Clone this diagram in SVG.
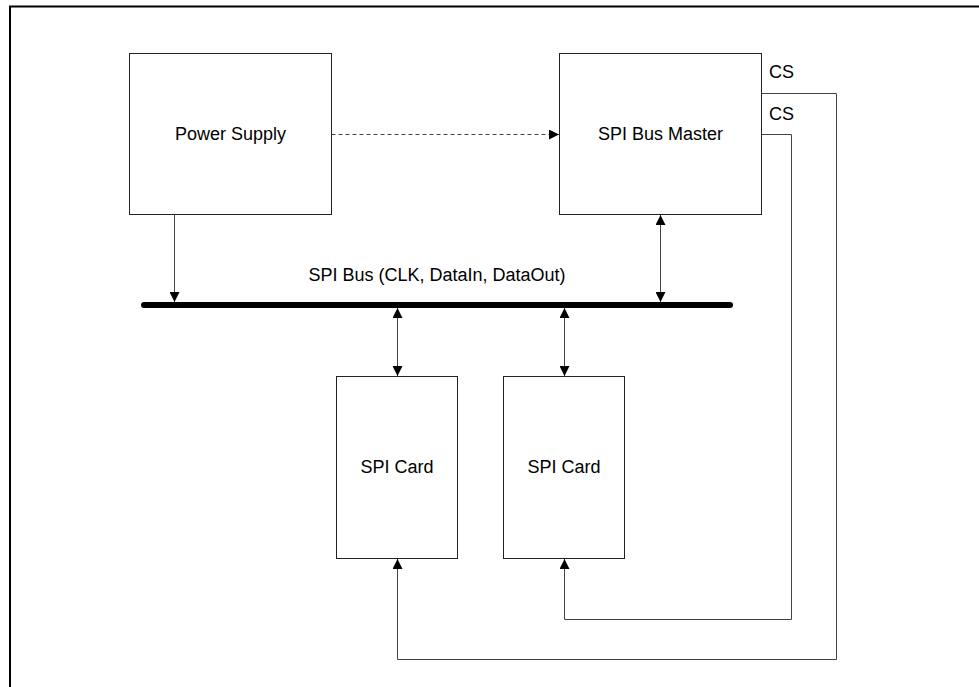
<svg xmlns="http://www.w3.org/2000/svg" width="979" height="687" viewBox="0 0 979 687">
  <defs>
    <marker id="arrow" viewBox="0 0 10 10" refX="10" refY="5" markerWidth="10" markerHeight="10" markerUnits="userSpaceOnUse" orient="auto-start-reverse">
      <path d="M0,0 L10,5 L0,10 z" fill="#000"/>
    </marker>
  </defs>
  <style>
    .box { fill: #fff; stroke: #222; stroke-width: 1; }
    .lbl { font-family: "Liberation Sans", Arial, sans-serif; font-size: 18px; fill: #000; }
    .conn { fill: none; stroke: #444; stroke-width: 1; }
  </style>
  <rect x="0" y="0" width="979" height="687" fill="#fff"/>
  <rect id="frame" x="10" y="6.5" width="1000" height="700" fill="none" stroke="#000" stroke-width="2"/>

  <g id="power-supply">
    <rect class="box" x="129.5" y="53.5" width="202" height="161"/>
    <text class="lbl" x="230.5" y="139.5" text-anchor="middle">Power Supply</text>
  </g>
  <g id="spi-bus-master">
    <rect class="box" x="559.5" y="53.5" width="202" height="161"/>
    <text class="lbl" x="660.5" y="139.5" text-anchor="middle">SPI Bus Master</text>
  </g>
  <g id="spi-bus">
    <line x1="144" y1="305" x2="730" y2="305" stroke="#000" stroke-width="6" stroke-linecap="round"/>
    <text class="lbl" x="437" y="281" text-anchor="middle">SPI Bus (CLK, DataIn, DataOut)</text>
  </g>
  <g id="spi-card-1">
    <rect class="box" x="336.5" y="376.5" width="121" height="182"/>
    <text class="lbl" x="397" y="473" text-anchor="middle">SPI Card</text>
  </g>
  <g id="spi-card-2">
    <rect class="box" x="503.5" y="376.5" width="121" height="182"/>
    <text class="lbl" x="564" y="473" text-anchor="middle">SPI Card</text>
  </g>

  <g id="connectors">
    <line class="conn" x1="174.5" y1="214.5" x2="174.5" y2="302" marker-end="url(#arrow)"/>
    <line class="conn" x1="331.5" y1="134.5" x2="559" y2="134.5" stroke-dasharray="4,3" marker-end="url(#arrow)"/>
    <line class="conn" x1="660.5" y1="215" x2="660.5" y2="302" marker-start="url(#arrow)" marker-end="url(#arrow)"/>
    <line class="conn" x1="397.5" y1="308" x2="397.5" y2="376" marker-start="url(#arrow)" marker-end="url(#arrow)"/>
    <line class="conn" x1="564.5" y1="308" x2="564.5" y2="376" marker-start="url(#arrow)" marker-end="url(#arrow)"/>
    <path class="conn" d="M761.5,93.5 H836.5 V659.5 H397.5 V559" marker-end="url(#arrow)"/>
    <path class="conn" d="M761.5,134.5 H791.5 V619.5 H564.5 V559" marker-end="url(#arrow)"/>
    <text class="lbl" x="769" y="77.5">CS</text>
    <text class="lbl" x="769" y="119.5">CS</text>
  </g>
</svg>
